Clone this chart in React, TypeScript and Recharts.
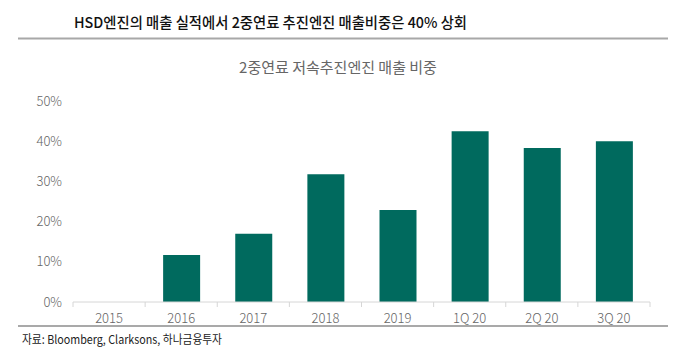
import React from 'react';
import { BarChart, Bar, XAxis, YAxis } from 'recharts';

const categories = ['2015', '2016', '2017', '2018', '2019', '1Q 20', '2Q 20', '3Q 20'];
const shareValues = [0, 11.7, 17, 31.8, 22.9, 42.5, 38.3, 40];
const yTicks = [0, 10, 20, 30, 40, 50];

const chartData = categories.map((name, i) => ({ name, share: shareValues[i] }));

const FONT = '"Noto Sans CJK KR", "Noto Sans", sans-serif';
const PLOT_LEFT = 73;
const PLOT_RIGHT = 650;
const BAND = (PLOT_RIGHT - PLOT_LEFT) / categories.length;

// ticks sit between categories, labels in the middle
function CategoryTick(props: any) {
  const { x, y, payload, index } = props;
  const last = index === categories.length - 1;
  return (
    <g>
      <line x1={x - BAND / 2} x2={x - BAND / 2} y1={y} y2={y + 5} stroke="#d6d6d6" />
      {last && <line x1={x + BAND / 2} x2={x + BAND / 2} y1={y} y2={y + 5} stroke="#d6d6d6" />}
      <text
        x={x}
        y={y + 15}
        textAnchor="middle"
        dominantBaseline="central"
        fontSize={13}
        fontWeight={300}
        fill="#666"
        fontFamily={FONT}
      >
        {payload.value}
      </text>
    </g>
  );
}

export default function App() {
  return (
    <div style={{ position: 'absolute', left: 0, top: 0, width: 680, height: 355, background: '#fff', fontFamily: FONT }}>
      <svg width={680} height={355} style={{ position: 'absolute', left: 0, top: 0 }}>
        <text
          x={74}
          y={21}
          dominantBaseline="central"
          fontSize={15}
          fontWeight={500}
          fill="#111"
          fontFamily={FONT}
          textLength={393}
          lengthAdjust="spacingAndGlyphs"
        >
          HSD엔진의 매출 실적에서 2중연료 추진엔진 매출비중은 40% 상회
        </text>
        <line x1={18} x2={668} y1={38.5} y2={38.5} stroke="#a8a8a8" strokeWidth={2} />
        <text x={338} y={66} textAnchor="middle" dominantBaseline="central" fontSize={15} fill="#666" fontFamily={FONT}>
          2중연료 저속추진엔진 매출 비중
        </text>
        <line x1={18} x2={668} y1={326} y2={326} stroke="#8c8c8c" strokeWidth={1.5} />
        <text
          x={22}
          y={338}
          dominantBaseline="central"
          fontSize={12}
          fill="#222"
          fontFamily={FONT}
          textLength={200}
          lengthAdjust="spacingAndGlyphs"
        >
          자료: Bloomberg, Clarksons, 하나금융투자
        </text>
      </svg>
      <div style={{ position: 'absolute', left: 0, top: 0 }}>
        <BarChart
          width={680}
          height={355}
          data={chartData}
          margin={{ top: 101, right: 680 - PLOT_RIGHT, bottom: 23, left: 13 }}
        >
          <XAxis
            dataKey="name"
            height={30}
            axisLine={{ stroke: '#d6d6d6' }}
            tickLine={false}
            tickSize={0}
            tickMargin={0}
            tick={<CategoryTick />}
            interval={0}
          />
          <YAxis
            width={PLOT_LEFT - 13}
            domain={[0, 50]}
            ticks={yTicks}
            axisLine={false}
            tickLine={false}
            tickMargin={5}
            tickFormatter={(v: number) => `${v}%`}
            tick={{ fontSize: 13, fill: '#666', fontFamily: FONT, fontWeight: 300 }}
          />
          <Bar dataKey="share" fill="#006a5e" barSize={37} isAnimationActive={false} />
        </BarChart>
      </div>
    </div>
  );
}
